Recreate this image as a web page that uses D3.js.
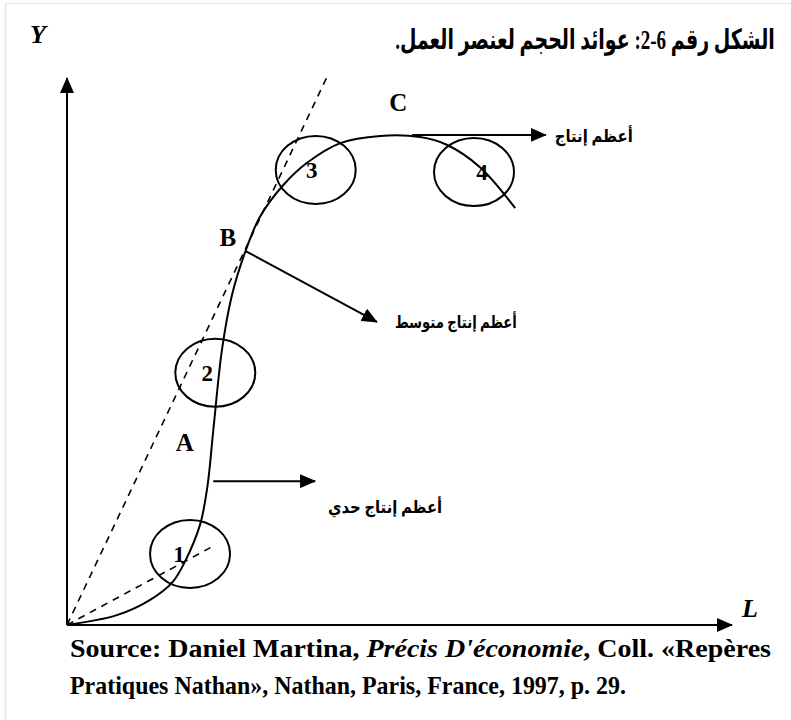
<!doctype html>
<html lang="ar">
<head>
<meta charset="utf-8">
<title>عوائد الحجم لعنصر العمل</title>
<script src="https://cdn.jsdelivr.net/npm/d3@7"></script>
<style>
    body { margin: 0; background: #fff; }
    svg text { font-family: "Liberation Serif", "DejaVu Sans", serif; font-weight: bold; fill: #000; }
</style>
</head>
<body>
<script>
var titleText = "الشكل رقم 6-2: عوائد الحجم لعنصر العمل.";
var axisNames = ["L", "Y"];

// total product curve (L, Y)
var curveL = [0, 7.5, 12.5, 15.9, 17.7, 20.0, 21.1, 22.0, 23.3, 24.8, 26.8, 29.0, 32.5, 36.1, 41.1, 47.1, 53.1, 57.1, 62.1, 67.4];
var curveY = [0, 1.8, 4.6, 7.9, 11.5, 18.3, 25.2, 35.6, 50.3, 60.3, 68.2, 74.6, 80.4, 84.5, 88.1, 89.4, 89.2, 87.8, 83.7, 76.2];

// dashed rays from the origin (marginal and average tangents)
var rayL = [21.95, 39.1];
var rayY = [14.4, 100.2];

// the four zones circled on the curve
var zoneNames = ["1", "2", "3", "4"];
var zoneL = [18.5, 22.3, 37.4, 61.2];
var zoneY = [13.0, 46.1, 83.2, 82.8];

// points A, B, C
var pointNames = ["A", "B", "C"];
var pointL = [17.7, 24.2, 49.8];
var pointY = [33.5, 70.9, 95.6];

// annotation arrows
var noteTexts = ["أعظم إنتاج حدي", "أعظم إنتاج متوسط", "أعظم إنتاج"];
var noteFromL = [22.0, 26.8, 51.9];
var noteFromY = [26.3, 68.4, 89.6];
var noteToL = [37.3, 46.6, 72.0];
var noteToY = [26.3, 55.4, 89.6];

var sourceLine1 = ["Source: Daniel Martina, ", "Précis D'économie", ", Coll. «Repères"];
var sourceLine2 = "Pratiques Nathan», Nathan, Paris, France, 1997, p. 29.";

var svgW = 791;
var svgH = 720;

var svg = d3.select("body")
            .append("svg")
            .attr("width", svgW)
            .attr("height", svgH);

// faint page frame
svg.append("line")
   .attr("x1", 5.5).attr("y1", 4).attr("x2", 5.5).attr("y2", svgH)
   .attr("stroke", "#e4e4e4").attr("stroke-width", 1.5);
svg.append("line")
   .attr("x1", 5).attr("y1", 3.5).attr("x2", svgW).attr("y2", 3.5)
   .attr("stroke", "#ececec").attr("stroke-width", 1.5);

var x = d3.scaleLinear()
          .domain([0, 100])
          .range([67, 732]);
var y = d3.scaleLinear()
          .domain([0, 100])
          .range([625, 78]);

var defs = svg.append("defs");
defs.append("marker")
    .attr("id", "head")
    .attr("markerUnits", "userSpaceOnUse")
    .attr("markerWidth", 16)
    .attr("markerHeight", 14)
    .attr("refX", 15)
    .attr("refY", 7)
    .attr("orient", "auto")
    .append("path")
    .attr("d", "M0,0 L16,7 L0,14 Z")
    .attr("fill", "#000");

// axes
svg.append("line")
   .attr("x1", x(0)).attr("y1", y(0))
   .attr("x2", x(100)).attr("y2", y(0))
   .attr("stroke", "#000").attr("stroke-width", 2)
   .attr("marker-end", "url(#head)");
svg.append("line")
   .attr("x1", x(0)).attr("y1", y(0))
   .attr("x2", x(0)).attr("y2", y(100))
   .attr("stroke", "#000").attr("stroke-width", 2)
   .attr("marker-end", "url(#head)");

svg.append("text")
   .attr("x", 750).attr("y", 617)
   .attr("text-anchor", "middle")
   .attr("font-size", 26)
   .attr("font-style", "italic")
   .text(axisNames[0]);
svg.append("text")
   .attr("x", 38).attr("y", 43)
   .attr("text-anchor", "middle")
   .attr("font-size", 26)
   .attr("font-style", "italic")
   .text(axisNames[1]);

// dashed rays
svg.selectAll(".ray")
   .data(rayL)
   .enter()
   .append("line")
   .attr("class", "ray")
   .attr("x1", x(0)).attr("y1", y(0))
   .attr("x2", d => x(d))
   .attr("y2", (d, i) => y(rayY[i]))
   .attr("stroke", "#000")
   .attr("stroke-width", 1.6)
   .attr("stroke-dasharray", "7,6");

// zone ellipses
svg.selectAll(".zone")
   .data(zoneNames)
   .enter()
   .append("ellipse")
   .attr("class", "zone")
   .attr("cx", (d, i) => x(zoneL[i]))
   .attr("cy", (d, i) => y(zoneY[i]))
   .attr("rx", 40)
   .attr("ry", 34)
   .attr("fill", "none")
   .attr("stroke", "#000")
   .attr("stroke-width", 2);

// the production curve
var line = d3.line()
             .x(d => x(d[0]))
             .y(d => y(d[1]))
             .curve(d3.curveCatmullRom.alpha(0.5));
svg.append("path")
   .datum(curveL.map((d, i) => [d, curveY[i]]))
   .attr("d", line)
   .attr("fill", "none")
   .attr("stroke", "#000")
   .attr("stroke-width", 2);

var zoneDx = [-11, -8, -4, 8];
svg.selectAll(".zoneLabel")
   .data(zoneNames)
   .enter()
   .append("text")
   .attr("class", "zoneLabel")
   .attr("x", (d, i) => x(zoneL[i]) + zoneDx[i])
   .attr("y", (d, i) => y(zoneY[i]) + 8)
   .attr("text-anchor", "middle")
   .attr("font-size", 23)
   .text(d => d);

svg.selectAll(".pointLabel")
   .data(pointNames)
   .enter()
   .append("text")
   .attr("class", "pointLabel")
   .attr("x", (d, i) => x(pointL[i]))
   .attr("y", (d, i) => y(pointY[i]) + 9)
   .attr("text-anchor", "middle")
   .attr("font-size", 25)
   .text(d => d);

// annotation arrows + texts
svg.selectAll(".note")
   .data(noteTexts)
   .enter()
   .append("line")
   .attr("class", "note")
   .attr("x1", (d, i) => x(noteFromL[i]))
   .attr("y1", (d, i) => y(noteFromY[i]))
   .attr("x2", (d, i) => x(noteToL[i]))
   .attr("y2", (d, i) => y(noteToY[i]))
   .attr("stroke", "#000")
   .attr("stroke-width", 2)
   .attr("marker-end", "url(#head)");

// text left edge offset from the arrow tip, and text width
var noteDx = [13, 18, 9];
var noteDy = [26, 0, 1];
var noteW = [114, 122, 78];
svg.selectAll(".noteText")
   .data(noteTexts)
   .enter()
   .append("text")
   .attr("class", "noteText")
   .attr("x", (d, i) => x(noteToL[i]) + noteDx[i])
   .attr("y", (d, i) => y(noteToY[i]) + noteDy[i] + 6)
   .attr("font-size", 17)
   .attr("textLength", (d, i) => noteW[i])
   .attr("lengthAdjust", "spacingAndGlyphs")
   .text(d => d);

// title: squeeze horizontally to the width it has in the figure
var title = svg.append("text")
               .attr("direction", "rtl")
               .attr("text-anchor", "middle")
               .attr("font-size", 28)
               .text(titleText);
var titleW = title.node().getComputedTextLength();
title.attr("transform", "translate(585,49) scale(" + (380 / titleW) + ",1)");

// source
var src1 = svg.append("text")
              .attr("x", 70).attr("y", 657)
              .attr("font-size", 25);
src1.selectAll("tspan")
    .data(sourceLine1)
    .enter()
    .append("tspan")
    .attr("font-style", (d, i) => i == 1 ? "italic" : "normal")
    .text(d => d);
src1.attr("textLength", 701).attr("lengthAdjust", "spacingAndGlyphs");

svg.append("text")
   .attr("x", 70).attr("y", 694)
   .attr("font-size", 25)
   .attr("textLength", 556)
   .attr("lengthAdjust", "spacingAndGlyphs")
   .text(sourceLine2);
</script>
</body>
</html>
